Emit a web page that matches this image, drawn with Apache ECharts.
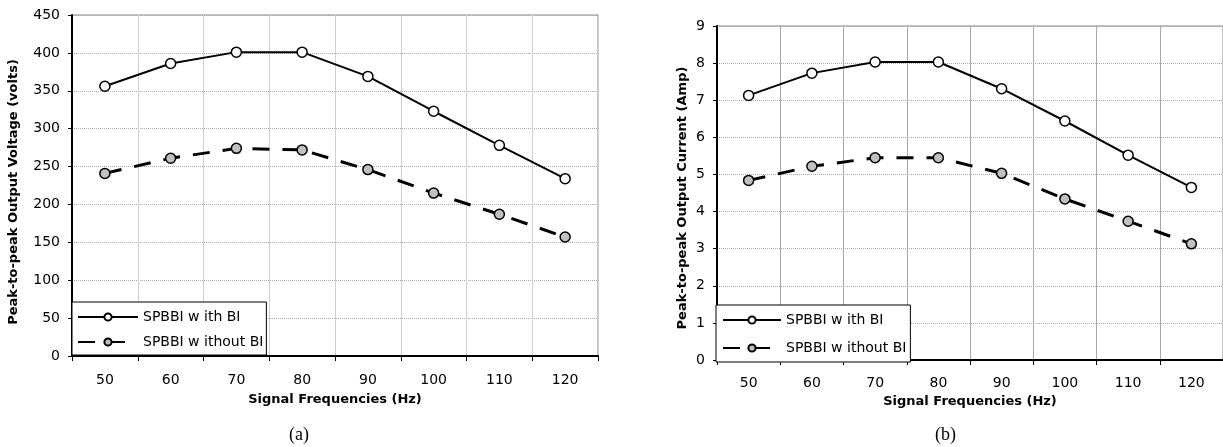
<!DOCTYPE html>
<html>
<head>
<meta charset="utf-8">
<script src="https://cdn.jsdelivr.net/npm/echarts@6/dist/echarts.min.js"></script>
<style>
html,body{margin:0;padding:0;background:#fff;}
#c{width:1223px;height:447px;}
</style>
</head>
<body>
<div id="c"></div>
<script>
// ---- data ----
const categories = ['50', '60', '70', '80', '90', '100', '110', '120'];
const voltageWithBI = [356, 386, 401, 401, 369, 323, 278, 234];
const voltageWithoutBI = [241, 261, 274, 272, 246, 215, 187, 157];
const currentWithBI = [7.13, 7.73, 8.03, 8.03, 7.31, 6.44, 5.52, 4.65];
const currentWithoutBI = [4.84, 5.22, 5.45, 5.45, 5.03, 4.34, 3.74, 3.13];
const seriesNames = ['SPBBI w ith BI', 'SPBBI w ithout BI'];
const xAxisTitle = 'Signal Frequencies (Hz)';
const yTitleA = 'Peak-to-peak Output Voltage (volts)';
const yTitleB = 'Peak-to-peak Output Current (Amp)';
const captions = ['(a)', '(b)'];

const FONT = 'DejaVu Sans';

function xAxisCfg(gridIndex, gap, vColor, labelMargin) {
  return {
    type: 'category', gridIndex: gridIndex, data: categories,
    boundaryGap: true,
    name: xAxisTitle, nameLocation: 'middle', nameGap: gap,
    nameTextStyle: {fontFamily: FONT, fontWeight: 'bold', fontSize: 13, color: '#000'},
    axisLine: {lineStyle: {color: '#000', width: 2}},
    axisTick: {show: true, inside: false, length: 5, alignWithLabel: false, lineStyle: {color: '#000', width: 1}},
    axisLabel: {interval: 0, margin: labelMargin, fontFamily: FONT, fontSize: 14, color: '#000'},
    splitLine: {show: true, lineStyle: {color: vColor, width: 1, type: 'solid'}}
  };
}
function yAxisCfg(gridIndex, name, max, interval, gap, shift) {
  return {
    type: 'value', gridIndex: gridIndex, min: 0, max: max, interval: interval,
    name: name, nameLocation: 'middle', nameGap: gap,
    nameTextStyle: {fontFamily: FONT, fontWeight: 'bold', fontSize: 13, color: '#000', padding: [0, shift, 0, 0]},
    axisLine: {show: true, lineStyle: {color: '#000', width: 2}},
    axisTick: {show: true, inside: false, length: 4, lineStyle: {color: '#000', width: 1}},
    axisLabel: {margin: 12, fontFamily: FONT, fontSize: 14, color: '#000'},
    splitLine: {show: true, lineStyle: {color: '#a8a8a8', width: 1, type: [1, 1]}}
  };
}
function withSeries(xi, data) {
  return {
    name: seriesNames[0], type: 'line', xAxisIndex: xi, yAxisIndex: xi, data: data,
    symbol: 'circle', symbolSize: 10,
    itemStyle: {color: '#fff', borderColor: '#000', borderWidth: 1.5},
    lineStyle: {color: '#000', width: 2, type: 'solid'},
    z: 3
  };
}
function withoutSeries(xi, data) {
  return {
    name: seriesNames[1], type: 'line', xAxisIndex: xi, yAxisIndex: xi, data: data,
    symbol: 'circle', symbolSize: 10,
    itemStyle: {color: '#c0c0c0', borderColor: '#000', borderWidth: 1.5},
    lineStyle: {color: '#000', width: 3, type: [17, 13]},
    z: 3
  };
}
function legendCfg(left, top, padding, itemWidth, itemGap) {
  return {
    data: seriesNames, orient: 'vertical', left: left, top: top,
    padding: padding, itemWidth: itemWidth, itemHeight: 9, itemGap: itemGap,
    backgroundColor: '#fff', borderColor: '#000', borderWidth: 1,
    selectedMode: false,
    textStyle: {fontFamily: FONT, fontSize: 14, color: '#000', lineHeight: 14},
    z: 10
  };
}

const chart = echarts.init(document.getElementById('c'), null, {renderer: 'canvas'});
chart.setOption({
  animation: false,
  backgroundColor: '#fff',
  grid: [
    {left: 72, top: 15, width: 526, height: 341, show: true, borderColor: '#888', borderWidth: 1, backgroundColor: 'transparent'},
    {left: 717, top: 26, width: 507, height: 334, show: true, borderColor: '#888', borderWidth: 1, backgroundColor: 'transparent'}
  ],
  xAxis: [xAxisCfg(0, 37, '#d0d0d0', 17), xAxisCfg(1, 33, '#a8a8a8', 16)],
  yAxis: [
    yAxisCfg(0, yTitleA, 450, 50, 52, 13),
    yAxisCfg(1, yTitleB, 9, 1, 28, 10)
  ],
  legend: [
    legendCfg(72, 302, [8, 3, 6, 5], 60, 11),
    legendCfg(716, 305, [8, 4, 7, 6], 58, 14)
  ],
  series: [
    withSeries(0, voltageWithBI),
    withoutSeries(0, voltageWithoutBI),
    withSeries(1, currentWithBI),
    withoutSeries(1, currentWithoutBI)
  ],
  graphic: [
    {type: 'text', left: 289, top: 426, style: {text: captions[0], font: '18px "Liberation Serif"', fill: '#000'}},
    {type: 'text', left: 935, top: 426, style: {text: captions[1], font: '18px "Liberation Serif"', fill: '#000'}}
  ]
});
</script>
</body>
</html>
